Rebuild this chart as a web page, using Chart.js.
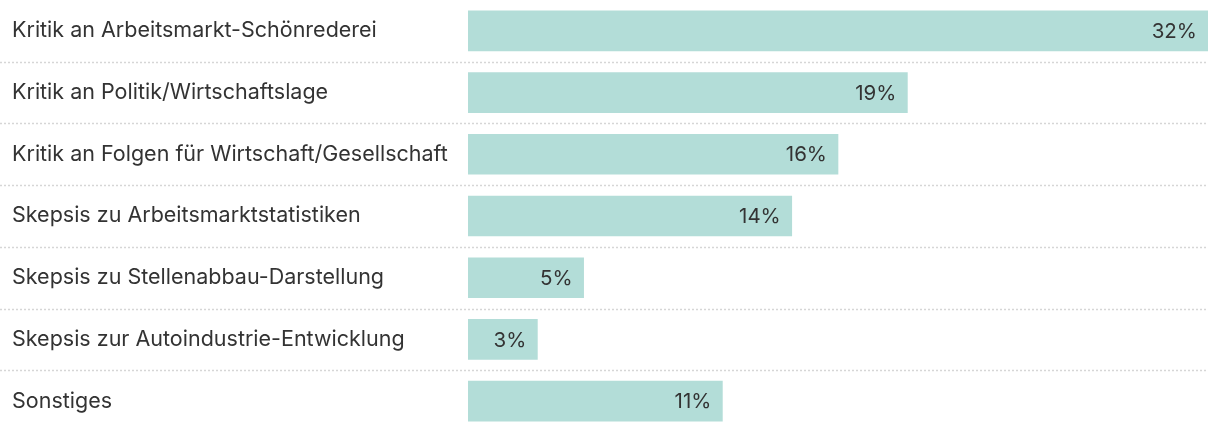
<!DOCTYPE html>
<html>
<head>
<meta charset="utf-8">
<script src="https://cdn.jsdelivr.net/npm/chart.js@4"></script>
<style>
  html, body { margin: 0; padding: 0; background: #fff; }
  #wrap { width: 1220px; height: 432px; }
</style>
</head>
<body>
<div id="wrap"><canvas id="barChart"></canvas></div>
<script>
// Data
const categories = [
    'Kritik an Arbeitsmarkt-Schönrederei',
    'Kritik an Politik/Wirtschaftslage',
    'Kritik an Folgen für Wirtschaft/Gesellschaft',
    'Skepsis zu Arbeitsmarktstatistiken',
    'Skepsis zu Stellenabbau-Darstellung',
    'Skepsis zur Autoindustrie-Entwicklung',
    'Sonstiges'
];
const shares = [32, 19, 16, 14, 5, 3, 11];

const FONT = 'Inter, "Noto Sans", sans-serif';

// dotted separators between rows, running under the labels too
const separators = {
    id: 'separators',
    beforeDatasetsDraw(chart) {
        const ctx = chart.ctx;
        const y = chart.scales.y;
        const area = chart.chartArea;
        ctx.save();
        ctx.strokeStyle = '#d6d6d6';
        ctx.lineWidth = 1.5;
        ctx.setLineDash([2, 2]);
        for (let i = 0; i < categories.length - 1; i++) {
            const yy = Math.round((y.getPixelForValue(i) + y.getPixelForValue(i + 1)) / 2) + 0.5;
            ctx.beginPath();
            ctx.moveTo(0, yy);
            ctx.lineTo(area.right, yy);
            ctx.stroke();
        }
        ctx.restore();
    }
};

// value text inside the end of each bar
const valueLabels = {
    id: 'valueLabels',
    afterDatasetsDraw(chart) {
        const ctx = chart.ctx;
        const meta = chart.getDatasetMeta(0);
        ctx.save();
        ctx.font = '20.5px ' + FONT;
        ctx.fillStyle = '#333';
        ctx.textAlign = 'right';
        ctx.textBaseline = 'middle';
        meta.data.forEach((bar, i) => {
            ctx.fillText(shares[i] + '%', bar.x - 11, bar.y + 1);
        });
        ctx.restore();
    }
};

const ctx = document.getElementById('barChart').getContext('2d');
const barChart = new Chart(ctx, {
    type: 'bar',
    data: {
        labels: categories,
        datasets: [{
            data: shares,
            backgroundColor: '#b3ddd8',
            borderWidth: 0,
            barThickness: 40
        }]
    },
    options: {
        indexAxis: 'y',
        responsive: true,
        maintainAspectRatio: false,
        animation: false,
        layout: { padding: { left: 12, right: 12, top: -1, bottom: -1 } },
        plugins: {
            legend: { display: false },
            tooltip: { enabled: false }
        },
        scales: {
            x: {
                display: false,
                min: 0,
                max: 32
            },
            y: {
                grid: { display: false },
                border: { display: false },
                afterFit(scale) {
                    scale.width = 456;
                    scale.paddingTop = 0;
                    scale.paddingBottom = 0;
                },
                ticks: {
                    crossAlign: 'far',
                    color: '#333',
                    font: { family: FONT, size: 21.5 }
                }
            }
        }
    },
    plugins: [separators, valueLabels]
});
</script>
</body>
</html>
